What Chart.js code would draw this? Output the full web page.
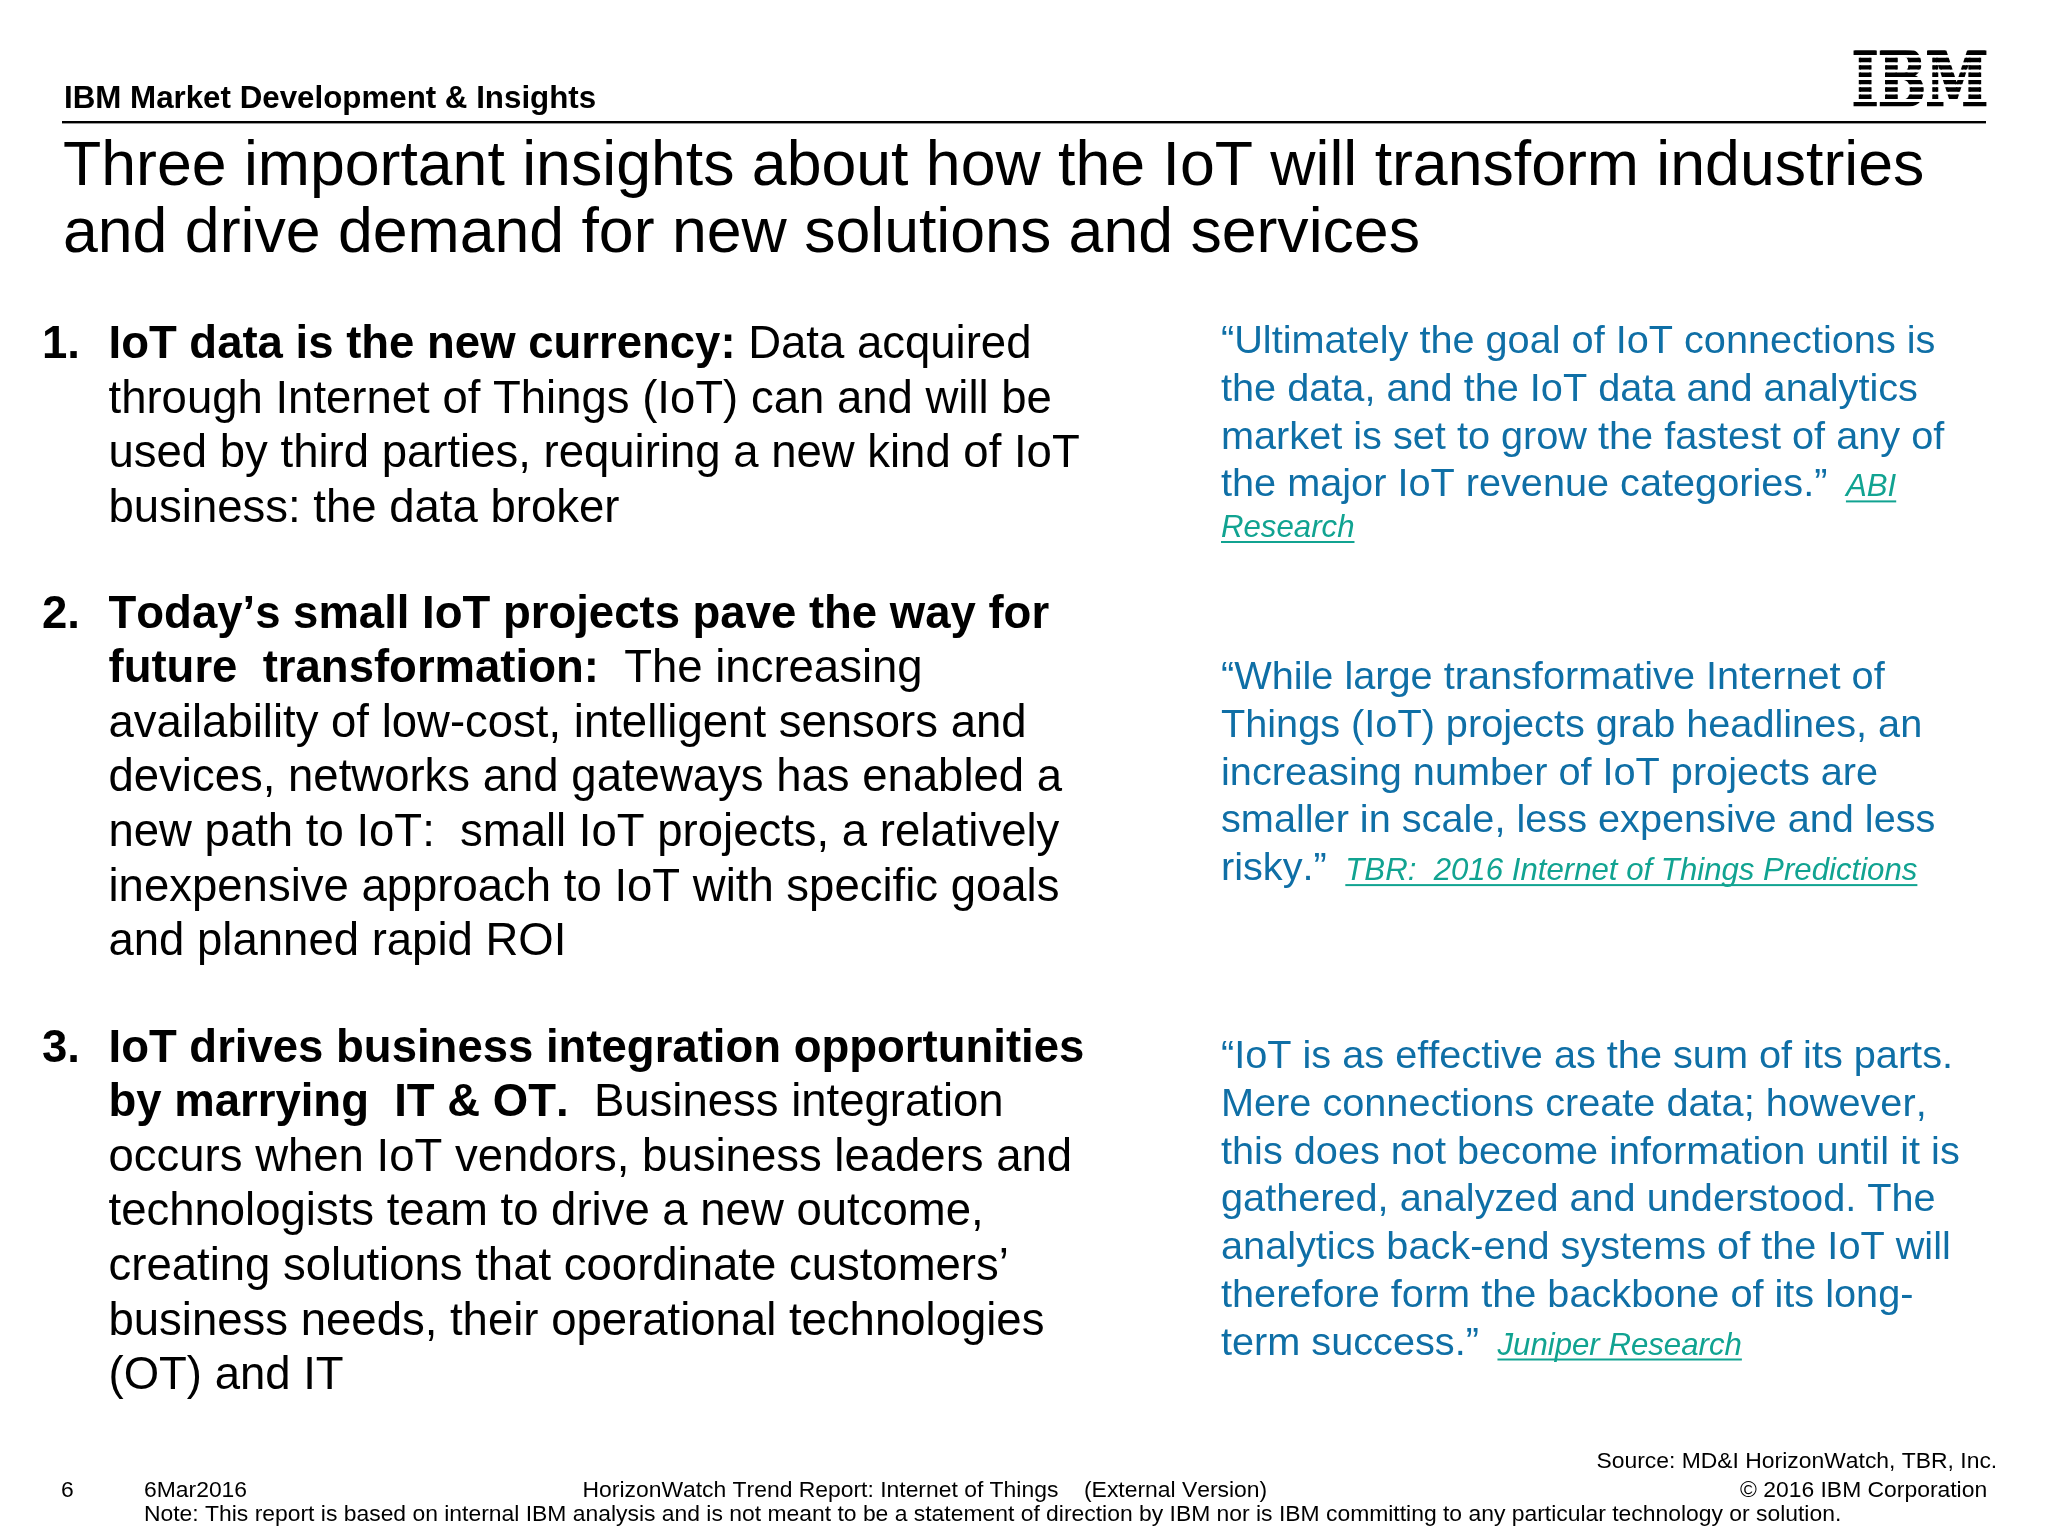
<!DOCTYPE html>
<html><head><meta charset="utf-8">
<style>html,body{margin:0;padding:0;background:#fff}canvas{display:block}</style>
<script src="https://cdn.jsdelivr.net/npm/chart.js@4"></script>
</head><body>
<canvas id="c" width="2048" height="1536" style="width:2048px;height:1536px"></canvas>
<script>
const headerText = "IBM Market Development & Insights";
const logoText = "IBM";
const titleLines = [
 "Three important insights about how the IoT will transform industries",
 "and drive demand for new solutions and services"];
const insightNumbers = ["1.","2.","3."];
const insight1 = [
 [["IoT data is the new currency:",1],[" Data acquired",0]],
 [["through Internet of Things (IoT) can and will be",0]],
 [["used by third parties, requiring a new kind of IoT",0]],
 [["business: the data broker",0]]];
const insight2 = [
 [["Today’s small IoT projects pave the way for",1]],
 [["future  transformation:",1],["  The increasing",0]],
 [["availability of low-cost, intelligent sensors and",0]],
 [["devices, networks and gateways has enabled a",0]],
 [["new path to IoT:  small IoT projects, a relatively",0]],
 [["inexpensive approach to IoT with specific goals",0]],
 [["and planned rapid ROI",0]]];
const insight3 = [
 [["IoT drives business integration opportunities",1]],
 [["by marrying  IT & OT.",1],["  Business integration",0]],
 [["occurs when IoT vendors, business leaders and",0]],
 [["technologists team to drive a new outcome,",0]],
 [["creating solutions that coordinate customers’",0]],
 [["business needs, their operational technologies",0]],
 [["(OT) and IT",0]]];
const quote1 = [
 ["“Ultimately the goal of IoT connections is"],
 ["the data, and the IoT data and analytics"],
 ["market is set to grow the fastest of any of"],
 ["the major IoT revenue categories.”  ","ABI"],
 ["","Research"]];
const quote2 = [
 ["“While large transformative Internet of"],
 ["Things (IoT) projects grab headlines, an"],
 ["increasing number of IoT projects are"],
 ["smaller in scale, less expensive and less"],
 ["risky.”  ","TBR:  2016 Internet of Things Predictions"]];
const quote3 = [
 ["“IoT is as effective as the sum of its parts."],
 ["Mere connections create data; however,"],
 ["this does not become information until it is"],
 ["gathered, analyzed and understood. The"],
 ["analytics back-end systems of the IoT will"],
 ["therefore form the backbone of its long-"],
 ["term success.”  ","Juniper Research"]];
const pageNumber = "6";
const pageDate = "6Mar2016";
const footerCenter = "HorizonWatch Trend Report: Internet of Things";
const footerVersion = "(External Version)";
const footerCopy = "© 2016 IBM Corporation";
const footerSource = "Source: MD&I HorizonWatch, TBR, Inc.";
const footerNote = "Note: This report is based on internal IBM analysis and is not meant to be a statement of direction by IBM nor is IBM committing to any particular technology or solution.";

const FF = '"Liberation Sans", Arial, sans-serif';
const slide = {
 id:'slide',
 afterDraw(chart){
  const g = chart.ctx;
  g.save();
  g.textBaseline='alphabetic'; g.textAlign='left';
  g.fontKerning='none';
  const put=(t,x,y,font,col)=>{g.font=font;g.fillStyle=col||'#000';g.fillText(t,x,y);return g.measureText(t).width;};
  // header
  put(headerText,64,108,'bold 31.3px '+FF);
  g.fillStyle='#000'; g.fillRect(62,121,1924,2.4);
  // logo
  g.save();
  g.beginPath();
  for(let i=0;i<8;i++) g.rect(1850,50.5+i*7.35,140,4.4);
  g.clip();
  g.font='bold 64px "DejaVu Serif"';
  const lw=g.measureText(logoText).width;
  g.translate(1852,106);
  g.scale(136/lw,56/47);
  g.fillStyle='#000'; g.strokeStyle='#000'; g.lineWidth=2.5;
  g.fillText(logoText,0,0); g.strokeText(logoText,0,0);
  g.restore();
  // title
  titleLines.forEach((t,i)=>put(t,63,184.5+i*67.5,'62.6px '+FF));
  // body
  const BS=45.5,BP=54.6;
  const block=(lines,num,y0)=>{
   put(num,42,y0,'bold '+BS+'px '+FF);
   lines.forEach((segs,i)=>{
    let x=108.5;
    segs.forEach(([t,b])=>{x+=put(t,x,y0+i*BP,(b?'bold ':'')+BS+'px '+FF);});
   });
  };
  block(insight1,insightNumbers[0],358);
  block(insight2,insightNumbers[1],627.5);
  block(insight3,insightNumbers[2],1061.5);
  // quotes
  const QC='#0f6fa6',LC='#11a391',QS=39.68,LS=31.2,QP=47.7;
  const quote=(lines,y0)=>{
   lines.forEach(([t,l],i)=>{
    const y=y0+i*QP;
    const w=put(t,1221,y,QS+'px '+FF,QC);
    if(l){
     const x=1221+(t?w-3.5:0);
     const lw=put(l,x,y,'italic '+LS+'px '+FF,LC);
     g.fillStyle=LC; g.fillRect(x,y+4,lw,2);
    }
   });
  };
  quote(quote1.slice(0,4),353.3);
  quote([quote1[4]],537);
  quote(quote2,689.3);
  quote(quote3,1068.3);
  // footer
  const F='22.9px '+FF;
  put(pageNumber,61,1497,F);
  put(pageDate,144,1497,F);
  put(footerCenter,582.5,1497,F);
  put(footerVersion,1084,1497,F);
  put(footerCopy,1740,1497,F);
  put(footerSource,1596.5,1468,F);
  put(footerNote,144,1521,F);
  g.restore();
 }
};
new Chart(document.getElementById('c'),{
 type:'scatter',
 data:{datasets:[]},
 options:{responsive:false,animation:false,devicePixelRatio:1,
  plugins:{legend:{display:false},title:{display:false},tooltip:{enabled:false}},
  scales:{x:{display:false},y:{display:false}}},
 plugins:[slide]
});
</script>
</body></html>
